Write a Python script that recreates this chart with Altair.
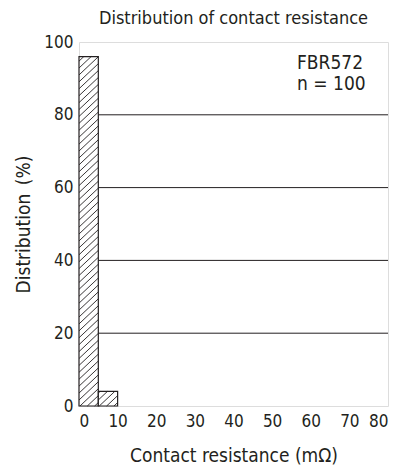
import altair as alt
import pandas as pd

# ---- data ----
bin_start = [0, 5]
bin_end = [5, 10]
percent = [96, 4]
x_ticks = [0, 10, 20, 30, 40, 50, 60, 70, 80]
y_ticks = [0, 20, 40, 60, 80, 100]
grid_values = [20, 40, 60, 80]
note_lines = ["FBR572", "n = 100"]

W, H = 309, 364
FONT = "'Liberation Sans Narrow', 'DejaVu Sans Condensed', 'Roboto Condensed', 'Noto Sans'"
INK = "#231f20"
HATCH_STEP = 1.9  # hatch spacing in data units (style)

bars = pd.DataFrame({"x0": bin_start, "x1": bin_end, "pct": percent})
grid = pd.DataFrame({"g": grid_values})

# hatch segments clipped to each bar (slope 1 in data units)
segs = []
for a, b, h in zip(bin_start, bin_end, percent):
    w = b - a
    k = -w + HATCH_STEP / 2
    while k < h:
        xs = max(a, a - k)
        xe = min(b, a - k + h)
        if xs < xe:
            segs.append({"x": xs, "y": xs - a + k, "x2": xe, "y2": xe - a + k})
        k += HATCH_STEP
hatch = pd.DataFrame(segs)

xscale = alt.Scale(domain=[0, 80], nice=False, zero=False)
yscale = alt.Scale(domain=[0, 100], nice=False)

xaxis = alt.Axis(values=x_ticks, grid=False, ticks=False, domain=False,
                 labelFont=FONT, labelFontSize=17, labelColor=INK, labelPadding=7,
                 labelOverlap=False,
                 title="Contact resistance (mΩ)", titleFont=FONT, titleFontSize=19,
                 titleFontWeight="normal", titleColor=INK, titlePadding=17)
yaxis = alt.Axis(values=y_ticks, grid=False, ticks=False, domain=False,
                 labelFont=FONT, labelFontSize=17, labelColor=INK, labelPadding=6,
                 labelOverlap=False,
                 title="Distribution\u2002(%)", titleFont=FONT, titleFontSize=19,
                 titleFontWeight="normal", titleColor=INK, titlePadding=10)

grid_layer = alt.Chart(grid).mark_rule(color=INK, strokeWidth=1).encode(
    y=alt.Y("g:Q", scale=yscale, axis=yaxis),
    x=alt.value(0), x2=alt.value(W),
)

bar_layer = alt.Chart(bars).mark_rect(fill="white", stroke=INK, strokeWidth=1.2).encode(
    x=alt.X("x0:Q", scale=xscale, axis=xaxis),
    x2="x1:Q",
    y=alt.Y("pct:Q", scale=yscale, axis=yaxis),
    y2=alt.datum(0),
)

hatch_layer = alt.Chart(hatch).mark_rule(color=INK, strokeWidth=0.9).encode(
    x=alt.X("x:Q", scale=xscale, axis=xaxis),
    y=alt.Y("y:Q", scale=yscale, axis=yaxis),
    x2="x2:Q",
    y2="y2:Q",
)

text_layers = []
for i, line in enumerate(note_lines):
    text_layers.append(
        alt.Chart(pd.DataFrame({"t": [line]})).mark_text(
            align="left", baseline="middle", font=FONT, fontSize=19, color=INK
        ).encode(text="t:N", x=alt.value(218), y=alt.value(21 + 21 * i))
    )

chart = alt.layer(grid_layer, bar_layer, hatch_layer, *text_layers).properties(
    width=W, height=H,
    title=alt.Title("Distribution of contact resistance", font=FONT, fontSize=18,
                    fontWeight="normal", color=INK, offset=5),
    autosize=alt.AutoSizeParams(type="none"),
    padding={"left": 71, "top": 34, "right": 17, "bottom": 61},
).configure_view(stroke=INK, strokeWidth=1.5).configure(background="white")

chart.save("out.html", embed_options={"renderer": "svg", "actions": False})
